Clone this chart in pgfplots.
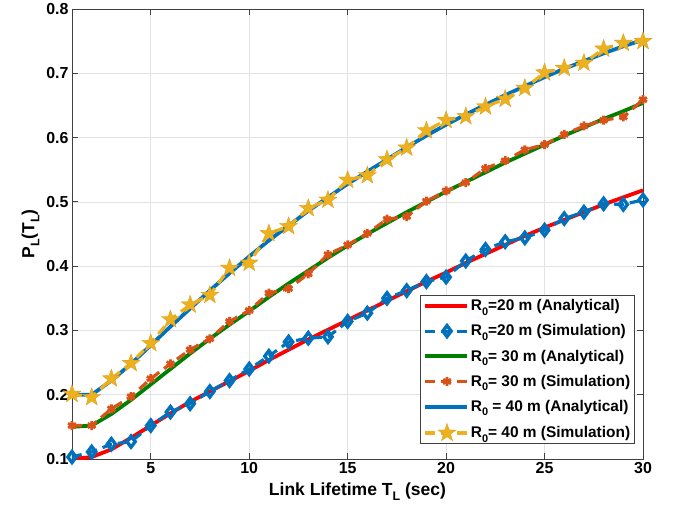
\documentclass[border=0pt]{standalone}
\usepackage{fontspec}
\setmainfont{Liberation Sans}
\usepackage{pgfplots}
\pgfplotsset{compat=1.18}
\definecolor{mblue}{rgb}{0,0.447,0.741}
\definecolor{morange}{rgb}{0.85,0.325,0.098}
\definecolor{myellow}{rgb}{0.929,0.694,0.125}
\definecolor{mgreen}{rgb}{0,0.5,0}
\newcommand\sub[1]{\raisebox{-0.55ex}{\fontsize{11}{11}\selectfont #1}}
\newcommand\labsub[1]{\raisebox{-0.55ex}{\fontsize{12.5}{12.5}\selectfont #1}}
% filled five-pointed star (MATLAB pentagram)
\pgfdeclareplotmark{fstar}{%
  \pgfpathmoveto{\pgfpointpolar{90}{\pgfplotmarksize}}%
  \pgfpathlineto{\pgfpointpolar{126}{0.4\pgfplotmarksize}}%
  \pgfpathlineto{\pgfpointpolar{162}{\pgfplotmarksize}}%
  \pgfpathlineto{\pgfpointpolar{198}{0.4\pgfplotmarksize}}%
  \pgfpathlineto{\pgfpointpolar{234}{\pgfplotmarksize}}%
  \pgfpathlineto{\pgfpointpolar{270}{0.4\pgfplotmarksize}}%
  \pgfpathlineto{\pgfpointpolar{306}{\pgfplotmarksize}}%
  \pgfpathlineto{\pgfpointpolar{342}{0.4\pgfplotmarksize}}%
  \pgfpathlineto{\pgfpointpolar{18}{\pgfplotmarksize}}%
  \pgfpathlineto{\pgfpointpolar{54}{0.4\pgfplotmarksize}}%
  \pgfpathclose
  \pgfusepathqfillstroke}

\begin{document}
\begin{tikzpicture}
\begin{axis}[
  width=571bp, height=450bp, scale only axis,
  xmin=1, xmax=30, ymin=0.1, ymax=0.8,
  xtick={5,10,15,20,25,30},
  ytick={0.1,0.2,0.3,0.4,0.5,0.6,0.7,0.8},
  yticklabel style={/pgf/number format/.cd, fixed, precision=1, fixed zerofill},
  /pgf/number format/assume math mode=true,
  font=\bfseries\fontsize{16}{18}\selectfont,
  grid=major, grid style={gray!22, line width=0.7pt},
  tick align=inside, major tick length=6bp,
  axis line style={black!75, line width=0.8pt},
  every tick/.style={black!75, line width=0.8pt},
  xlabel={Link Lifetime T\labsub{L} (sec)},
  ylabel={P\labsub{L}(T\labsub{L})},
  label style={font=\bfseries\fontsize{17.6}{19}\selectfont},
  xlabel style={yshift=-2bp},
  ylabel style={yshift=0bp},
  legend cell align=left,
  legend style={at={(0.986,0.033)}, anchor=south east, draw=black!75, line width=0.7pt,
    font=\bfseries\fontsize{15.5}{16}\selectfont, row sep=8.5bp, inner sep=2.5bp},
  legend image code/.code={\draw[mark repeat=2,mark phase=2] plot coordinates {(0bp,0bp) (22bp,0bp) (42bp,0bp)};},
  sim/.style={line width=3.2pt, dash pattern=on 10bp off 6bp, mark options={solid}},
  ana/.style={line width=3.8pt},
]
\addplot[ana, red] coordinates {
(1,0.100) (2,0.103) (3,0.115) (4,0.133) (5,0.152) (6,0.171) (7,0.189) (8,0.205) (9,0.221) (10,0.237)
(11,0.254) (12,0.270) (13,0.286) (14,0.301) (15,0.316) (16,0.331) (17,0.346) (18,0.361) (19,0.376) (20,0.390)
(21,0.405) (22,0.419) (23,0.433) (24,0.447) (25,0.460) (26,0.472) (27,0.484) (28,0.496) (29,0.507) (30,0.518)};
\addlegendentry{R\sub{0}=20 m (Analytical)}
\addplot[sim, mblue, mark=diamond, mark size=5.5bp, mark options={solid, line width=3.4pt, fill=white}] coordinates {
(1,0.103) (2,0.111) (3,0.123) (4,0.127) (5,0.152) (6,0.173) (7,0.186) (8,0.205) (9,0.222) (10,0.240)
(11,0.260) (12,0.282) (13,0.288) (14,0.290) (15,0.314) (16,0.327) (17,0.350) (18,0.362) (19,0.376) (20,0.383)
(21,0.408) (22,0.426) (23,0.438) (24,0.444) (25,0.456) (26,0.474) (27,0.484) (28,0.497) (29,0.496) (30,0.503)};
\addlegendentry{R\sub{0}=20 m (Simulation)}
\addplot[ana, mgreen] coordinates {
(1,0.150) (2,0.152) (3,0.170) (4,0.192) (5,0.216) (6,0.240) (7,0.264) (8,0.287) (9,0.309) (10,0.330)
(11,0.352) (12,0.373) (13,0.393) (14,0.413) (15,0.432) (16,0.450) (17,0.467) (18,0.484) (19,0.500) (20,0.516)
(21,0.531) (22,0.546) (23,0.561) (24,0.575) (25,0.589) (26,0.603) (27,0.616) (28,0.629) (29,0.641) (30,0.654)};
\addlegendentry{R\sub{0}= 30 m (Analytical)}
\addplot[sim, morange, mark=asterisk, mark size=4.5bp, mark options={solid, line width=2.8pt}] coordinates {
(1,0.152) (2,0.152) (3,0.178) (4,0.197) (5,0.225) (6,0.248) (7,0.270) (8,0.287) (9,0.314) (10,0.331)
(11,0.358) (12,0.365) (13,0.388) (14,0.418) (15,0.433) (16,0.451) (17,0.473) (18,0.477) (19,0.501) (20,0.517)
(21,0.530) (22,0.552) (23,0.564) (24,0.581) (25,0.589) (26,0.605) (27,0.618) (28,0.627) (29,0.632) (30,0.659)};
\addlegendentry{R\sub{0}= 30 m (Simulation)}
\addplot[ana, mblue] coordinates {
(1,0.200) (2,0.200) (3,0.222) (4,0.248) (5,0.277) (6,0.306) (7,0.334) (8,0.362) (9,0.389) (10,0.415)
(11,0.440) (12,0.463) (13,0.486) (14,0.507) (15,0.528) (16,0.547) (17,0.566) (18,0.585) (19,0.603) (20,0.620)
(21,0.636) (22,0.651) (23,0.666) (24,0.680) (25,0.694) (26,0.707) (27,0.719) (28,0.731) (29,0.742) (30,0.752)};
\addlegendentry{R\sub{0} = 40 m (Analytical)}
\addplot[sim, myellow, mark=fstar, mark size=9.5bp, mark options={solid, fill=myellow, draw=myellow!90!black, line width=0.3pt}] coordinates {
(1,0.201) (2,0.196) (3,0.225) (4,0.249) (5,0.280) (6,0.317) (7,0.340) (8,0.355) (9,0.397) (10,0.405)
(11,0.451) (12,0.462) (13,0.490) (14,0.503) (15,0.534) (16,0.541) (17,0.566) (18,0.584) (19,0.611) (20,0.627)
(21,0.633) (22,0.648) (23,0.660) (24,0.677) (25,0.701) (26,0.708) (27,0.716) (28,0.738) (29,0.747) (30,0.750)};
\addlegendentry{R\sub{0}= 40 m (Simulation)}
\end{axis}
\path (current axis.south west) ++(-72bp,-48bp) (current axis.north east) ++(38bp,9bp);
\end{tikzpicture}
\end{document}
